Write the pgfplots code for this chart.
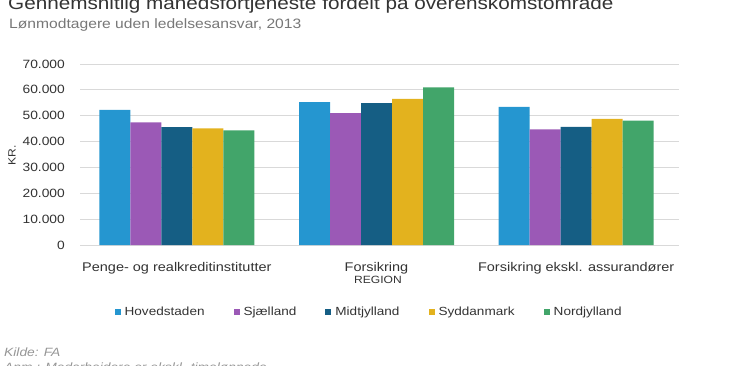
\documentclass[border=0pt]{standalone}
\usepackage{fontspec}
\setmainfont{Liberation Sans}[FakeStretch=1.15]
\usepackage{pgfplots}
\pgfplotsset{compat=1.18}
\definecolor{cHov}{RGB}{37,150,208}
\definecolor{cSja}{RGB}{155,89,182}
\definecolor{cMid}{RGB}{21,94,132}
\definecolor{cSyd}{RGB}{227,178,30}
\definecolor{cNor}{RGB}{66,165,106}
\definecolor{gridc}{RGB}{217,217,217}
\definecolor{txt}{RGB}{51,51,51}
\definecolor{subt}{RGB}{119,119,119}
\definecolor{src}{RGB}{150,150,150}
\begin{document}
\begin{tikzpicture}[x=1pt,y=1pt]
\useasboundingbox (0,0) rectangle (730,365);
\clip (0,0) rectangle (730,365);
\node[anchor=base west, inner sep=0pt, text=txt, font=\fontsize{18}{20}\selectfont] at (8,355.5) {Gennemsnitlig månedsfortjeneste fordelt på overenskomstområde};
\node[anchor=base west, inner sep=0pt, text=subt, font=\fontsize{13.6}{15}\selectfont] at (9,336) {Lønmodtagere uden ledelsesansvar, 2013};
\node[anchor=base west, inner sep=0pt, text=src, font=\fontsize{12}{14}\selectfont\itshape] at (4,9) {Kilde: FA};
\node[anchor=base west, inner sep=0pt, text=src, font=\fontsize{12}{14}\selectfont\itshape] at (4,-6) {Anm.: Medarbejdere er ekskl. timelønnede};
\begin{axis}[
  at={(80pt,120pt)}, anchor=south west,
  scale only axis, width=599pt, height=181pt,
  ybar=0pt, bar width=31pt,
  xmin=-0.485, xmax=2.515, ymin=0, ymax=70000,
  xtick={0,1,2},
  xticklabels={Penge- og realkreditinstitutter, Forsikring, Forsikring ekskl. assurandører},
  ytick={0,10000,20000,30000,40000,50000,60000,70000},
  scaled y ticks=false,
  /pgf/number format/.cd, 1000 sep={.}, assume math mode=true, /pgfplots/.cd,
  ymajorgrids, grid style={gridc, line width=0.8pt},
  axis line style={draw=none}, major tick style={draw=none},
  xticklabel style={anchor=base, yshift=-22pt, inner sep=0pt, text=txt, font=\fontsize{12.6}{14}\selectfont},
  yticklabel style={anchor=east, xshift=-15pt, inner sep=0pt, text=txt, font=\fontsize{12}{14}\selectfont},
  xlabel={REGION},
  every axis x label/.style={at={(axis description cs:0.4975,-0.21)}, anchor=base, inner sep=0pt, text=txt, font=\fontsize{10.5}{12}\selectfont},
  ylabel={KR.},
  every axis y label/.style={at={(axis description cs:-0.1135,0.497)}, rotate=90, anchor=center, inner sep=0pt, text=txt, font=\fontsize{10.5}{12}\selectfont},
  legend columns=5,
  legend style={at={(axis description cs:0.481,-0.37)}, anchor=center, draw=none, fill=none,
    nodes={inner sep=0pt, text=txt, font=\fontsize{11.8}{14}\selectfont},
    /tikz/every odd column/.append style={column sep=4pt},
    /tikz/every even column/.append style={column sep=29pt}},
  legend image code/.code={\fill[#1] (0pt,-3pt) rectangle (6pt,3pt);},
]
\addplot[fill=cHov, draw=none] coordinates {(0,52300) (1,55300) (2,53400)};
\addplot[fill=cSja, draw=none] coordinates {(0,47400) (1,51000) (2,44700)};
\addplot[fill=cMid, draw=none] coordinates {(0,45600) (1,54900) (2,45700)};
\addplot[fill=cSyd, draw=none] coordinates {(0,45100) (1,56500) (2,48800)};
\addplot[fill=cNor, draw=none] coordinates {(0,44300) (1,61000) (2,48100)};
\legend{Hovedstaden, Sjælland, Midtjylland, Syddanmark, Nordjylland}
\end{axis}
\end{tikzpicture}
\end{document}
